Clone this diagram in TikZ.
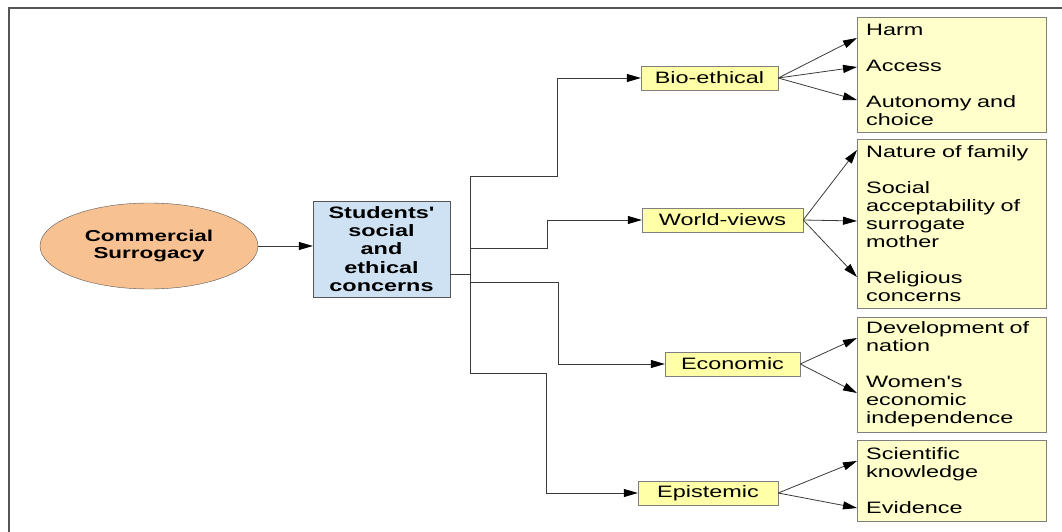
\documentclass[tikz,border=0pt]{standalone}
\usepackage{fontspec}
\newfontfamily\af[FakeStretch=1.42]{Liberation Sans}
\usetikzlibrary{arrows.meta,shapes.geometric,calc}
\definecolor{framec}{HTML}{555555}
\definecolor{orangefill}{HTML}{F8C192}
\definecolor{bluefill}{HTML}{CFE2F3}
\definecolor{yfill}{HTML}{FFFFA8}
\definecolor{ybig}{HTML}{FFFFCC}
\definecolor{edgec}{HTML}{7F7F7F}
\definecolor{linec}{HTML}{3A3A3A}
\begin{document}
\begin{tikzpicture}[x=1pt,y=-1pt,
  font=\af\fontsize{16.5}{18}\selectfont,
  boldtxt/.style={font=\af\bfseries\fontsize{16.5}{18.3}\selectfont},
  lab/.style={draw=edgec, fill=yfill, minimum height=24pt, inner sep=0pt},
  bigbox/.style={draw=edgec, fill=ybig, anchor=north west, minimum width=189pt,
     text width=171pt, inner xsep=9pt, inner ysep=0pt, align=left},
  conn/.style={draw=linec, line width=0.8pt},
  arr/.style={conn, -{Triangle[length=14pt,width=8pt,color=black]}}]
\useasboundingbox (0,0) rectangle (1062,532);
\draw[framec, line width=1.6pt] (9,545) -- (9,8) -- (1075,8);

\node[ellipse, draw=framec, fill=orangefill, minimum width=218pt, minimum height=86pt,
  inner sep=0pt, align=center, font=\af\bfseries\fontsize{15.8}{17.7}\selectfont] (cs) at (149,246) {Commercial\\Surrogacy};
\node[rectangle, draw=framec, fill=bluefill, minimum width=137pt, minimum height=96pt,
  inner sep=0pt, align=center, boldtxt] (stu) at (381.5,249) {Students'\\social\\and\\ethical\\concerns};

\node[lab, minimum width=137pt] (bio) at (709.5,78) {Bio-ethical};
\node[lab, minimum width=161pt] (wv) at (722.5,220) {World-views};
\node[lab, minimum width=135pt] (eco) at (732.5,364) {Economic};
\node[lab, minimum width=140pt] (epi) at (708,493) {Epistemic};

\node[bigbox, minimum height=115pt] (b1) at (857,17) {Harm\\[18pt]Access\\[18pt]Autonomy and\\choice};
\node[bigbox, minimum height=169pt] (b2) at (857,139) {Nature of family\\[18pt]Social\\acceptability of\\surrogate\\mother\\[18pt]Religious\\concerns};
\node[bigbox, minimum height=115pt] (b3) at (857,317) {Development of\\nation\\[18pt]Women's\\economic\\independence};
\node[bigbox, minimum height=81pt] (b4) at (857,440) {Scientific\\knowledge\\[18pt]Evidence};

\draw[arr] (cs.east) -- (stu.west |- cs.east);
\coordinate (sout) at ($(stu.east)+(0,25)$);
\coordinate (trunk) at ($(sout)+(20,0)$);
\draw[arr] (sout) -- (trunk) |- (557,176) |- (bio.west);
\draw[arr] (sout) -- (trunk) |- (547,248) |- (wv.west);
\draw[arr] (sout) -- (trunk) |- (558,282) |- (eco.west);
\draw[arr] (sout) -- (trunk) |- (546,373) |- (epi.west);

\draw[arr] (bio.east) -- ($(b1.north west)+(0,21)$);
\draw[arr] (bio.east) -- ($(b1.north west)+(0,50)$);
\draw[arr] (bio.east) -- ($(b1.north west)+(0,83)$);
\draw[arr] (wv.east) -- ($(b2.north west)+(0,11)$);
\draw[arr] (wv.east) -- ($(b2.north west)+(0,82)$);
\draw[arr] (wv.east) -- ($(b2.north west)+(0,138)$);
\draw[arr] (eco.east) -- ($(b3.north west)+(0,21)$);
\draw[arr] (eco.east) -- ($(b3.north west)+(0,76)$);
\draw[arr] (epi.east) -- ($(b4.north west)+(0,21)$);
\draw[arr] (epi.east) -- ($(b4.north west)+(0,68)$);
\end{tikzpicture}
\end{document}
